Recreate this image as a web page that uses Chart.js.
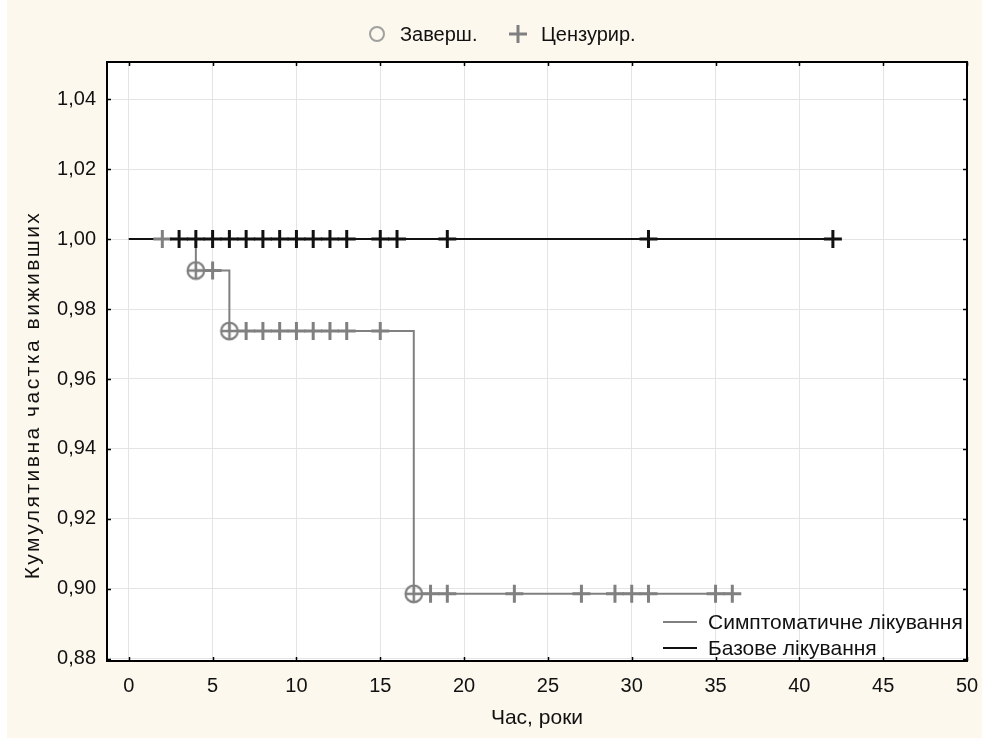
<!DOCTYPE html>
<html>
<head>
<meta charset="utf-8">
<script src="https://cdn.jsdelivr.net/npm/chart.js@4.4.0/dist/chart.umd.min.js"></script>
<style>
  html, body { margin: 0; padding: 0; background: #fff; }
  canvas { display: block; }
</style>
</head>
<body>
<canvas id="kmChart" width="982" height="738"></canvas>
<script>
const xTicks = [0, 5, 10, 15, 20, 25, 30, 35, 40, 45, 50];
const yTicks = [0.88, 0.90, 0.92, 0.94, 0.96, 0.98, 1.00, 1.02, 1.04];

// Симптоматичне лікування
const symptStepTimes = [0, 4, 6, 17, 36];
const symptStepSurv = [1.0, 0.991, 0.9737, 0.8986, 0.8986];
const symptEventTimes = [4, 6, 17];
const symptEventSurv = [0.991, 0.9737, 0.8986];
const symptCensTimes = [2, 5, 7, 8, 9, 10, 11, 12, 13, 15, 18, 19, 23, 27, 29, 30, 31, 35, 36];
const symptCensSurv = [1.0, 0.991, 0.9737, 0.9737, 0.9737, 0.9737, 0.9737, 0.9737, 0.9737, 0.9737,
                       0.8986, 0.8986, 0.8986, 0.8986, 0.8986, 0.8986, 0.8986, 0.8986, 0.8986];

// Базове лікування
const baseStepTimes = [0, 42];
const baseStepSurv = [1.0, 1.0];
const baseCensTimes = [3, 4, 5, 6, 7, 8, 9, 10, 11, 12, 13, 15, 16, 19, 31, 42];
const baseCensSurv = [1.0, 1.0, 1.0, 1.0, 1.0, 1.0, 1.0, 1.0, 1.0, 1.0, 1.0, 1.0, 1.0, 1.0, 1.0, 1.0];

const GREY = '#808080';
const BLACK = '#111111';
const FONT = '"Liberation Sans", Arial, sans-serif';
const FS = 20;

const toPts = (xs, ys) => xs.map((x, i) => ({ x: x, y: ys[i] }));

// circle marker with a cross inside (event)
function eventMarker() {
    const c = document.createElement('canvas');
    c.width = 24; c.height = 24;
    const g = c.getContext('2d');
    g.strokeStyle = GREY;
    g.lineWidth = 2.2;
    g.beginPath(); g.arc(12, 12, 8.3, 0, Math.PI * 2); g.stroke();
    g.lineWidth = 2.5;
    g.beginPath();
    g.moveTo(12, 3.5); g.lineTo(12, 20.5);
    g.moveTo(3.5, 12); g.lineTo(20.5, 12);
    g.stroke();
    return c;
}

const framePlugin = {
    id: 'frame',
    beforeDraw(chart) {
        const ctx = chart.ctx;
        ctx.save();
        ctx.fillStyle = '#ffffff';
        ctx.fillRect(0, 0, chart.width, chart.height);
        ctx.fillStyle = '#fcf8ee';
        ctx.fillRect(7, 0, chart.width - 7, chart.height);
        const a = chart.chartArea;
        ctx.fillStyle = '#ffffff';
        ctx.fillRect(a.left, a.top, a.right - a.left, a.bottom - a.top);
        ctx.restore();
    },
    afterDatasetsDraw(chart) {
        const ctx = chart.ctx;
        const a = chart.chartArea;
        const xs = chart.scales.x, ys = chart.scales.y;
        ctx.save();
        ctx.strokeStyle = '#000';
        ctx.lineWidth = 2;
        ctx.strokeRect(a.left, a.top, a.right - a.left, a.bottom - a.top);
        ctx.lineWidth = 1.5;
        ctx.beginPath();
        xTicks.forEach(v => {
            const px = Math.round(xs.getPixelForValue(v)) + 0.5;
            ctx.moveTo(px, a.bottom); ctx.lineTo(px, a.bottom - 4);
            ctx.moveTo(px, a.top); ctx.lineTo(px, a.top + 4);
        });
        yTicks.forEach(v => {
            const py = Math.round(ys.getPixelForValue(v)) + 0.5;
            ctx.moveTo(a.left, py); ctx.lineTo(a.left + 4, py);
            ctx.moveTo(a.right, py); ctx.lineTo(a.right - 4, py);
        });
        ctx.stroke();

        // axis titles
        ctx.fillStyle = '#111';
        ctx.font = '21px ' + FONT;
        ctx.textAlign = 'center';
        ctx.textBaseline = 'middle';
        ctx.fillText('Час, роки', (a.left + a.right) / 2, 718);
        ctx.save();
        ctx.translate(33, 395);
        ctx.rotate(-Math.PI / 2);
        ctx.letterSpacing = '2.5px';
        ctx.fillText('Кумулятивна частка виживших', 0, 0);
        ctx.restore();

        // top legend
        ctx.font = FS + 'px ' + FONT;
        ctx.textAlign = 'left';
        ctx.strokeStyle = '#a0a0a0';
        ctx.lineWidth = 2;
        ctx.beginPath(); ctx.arc(377, 34, 7, 0, Math.PI * 2); ctx.stroke();
        ctx.fillText('Заверш.', 400, 35);
        ctx.strokeStyle = GREY;
        ctx.lineWidth = 3;
        ctx.beginPath();
        ctx.moveTo(518, 25); ctx.lineTo(518, 43);
        ctx.moveTo(509, 34); ctx.lineTo(527, 34);
        ctx.stroke();
        ctx.fillText('Цензурир.', 541, 35);

        // series legend inside plot
        ctx.font = '21px ' + FONT;
        ctx.lineWidth = 2;
        ctx.strokeStyle = GREY;
        ctx.beginPath(); ctx.moveTo(663, 622); ctx.lineTo(697, 622); ctx.stroke();
        ctx.fillText('Симптоматичне лікування', 708, 623);
        ctx.strokeStyle = BLACK;
        ctx.beginPath(); ctx.moveTo(663, 648); ctx.lineTo(697, 648); ctx.stroke();
        ctx.fillText('Базове лікування', 708, 649);
        ctx.restore();
    }
};

new Chart(document.getElementById('kmChart').getContext('2d'), {
    type: 'scatter',
    data: {
        datasets: [
            {
                label: 'Базове лікування (цензур.)',
                data: toPts(baseCensTimes, baseCensSurv),
                pointStyle: 'cross',
                pointRadius: 9,
                borderColor: BLACK,
                borderWidth: 3,
                showLine: false,
                order: 0
            },
            {
                label: 'Симптоматичне лікування (цензур.)',
                data: toPts(symptCensTimes, symptCensSurv),
                pointStyle: 'cross',
                pointRadius: 9,
                borderColor: GREY,
                borderWidth: 3,
                showLine: false,
                order: 1
            },
            {
                label: 'Базове лікування',
                data: toPts(baseStepTimes, baseStepSurv),
                borderColor: BLACK,
                borderWidth: 2,
                showLine: true,
                stepped: true,
                pointRadius: 0,
                order: 2
            },
            {
                label: 'Симптоматичне лікування (заверш.)',
                data: toPts(symptEventTimes, symptEventSurv),
                pointStyle: eventMarker(),
                pointRadius: 9,
                showLine: false,
                order: 3
            },
            {
                label: 'Симптоматичне лікування',
                data: toPts(symptStepTimes, symptStepSurv),
                borderColor: GREY,
                borderWidth: 2,
                showLine: true,
                stepped: true,
                pointRadius: 0,
                order: 4
            }
        ]
    },
    options: {
        responsive: false,
        animation: false,
        events: [],
        layout: { padding: { left: 0, top: 62, right: 15, bottom: 0 } },
        plugins: { legend: { display: false }, tooltip: { enabled: false } },
        scales: {
            x: {
                type: 'linear',
                min: -1.3,
                max: 50,
                afterBuildTicks: s => { s.ticks = xTicks.map(v => ({ value: v })); },
                afterFit: s => { s.height = 77; s.paddingLeft = 0; s.paddingRight = 0; },
                grid: { color: '#e4e4e4', lineWidth: 1, drawTicks: false },
                border: { display: false },
                ticks: {
                    padding: 13,
                    color: '#111',
                    font: { family: FONT, size: FS },
                    maxRotation: 0,
                    autoSkip: false
                }
            },
            y: {
                type: 'linear',
                min: 0.8794,
                max: 1.0506,
                afterBuildTicks: s => { s.ticks = yTicks.map(v => ({ value: v })); },
                afterFit: s => { s.width = 107; s.paddingTop = 0; s.paddingBottom = 0; },
                grid: { color: '#e4e4e4', lineWidth: 1, drawTicks: false },
                border: { display: false },
                ticks: {
                    padding: 11,
                    color: '#111',
                    font: { family: FONT, size: FS },
                    autoSkip: false,
                    callback: v => v.toFixed(2).replace('.', ',')
                }
            }
        }
    },
    plugins: [framePlugin]
});
</script>
</body>
</html>
